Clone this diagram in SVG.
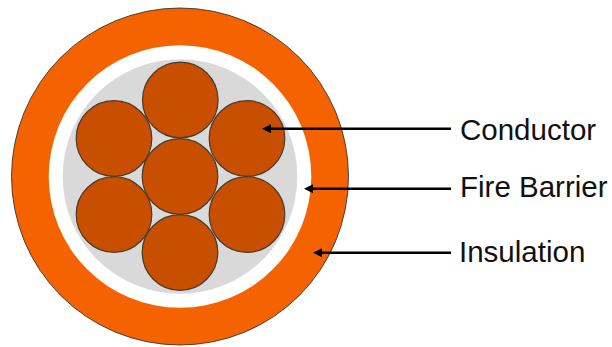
<svg xmlns="http://www.w3.org/2000/svg" width="612" height="347" viewBox="0 0 612 347">
<style>
.wire{fill:#c84e00;stroke:#4a3a2a;stroke-width:1.2}
.lbl{font-family:"Liberation Sans",Arial,sans-serif;font-size:29.500px;fill:#111}
.conn{stroke:#000;stroke-width:2.6;fill:none;marker-end:url(#ah)}
</style>
<defs><marker id="ah" markerUnits="userSpaceOnUse" markerWidth="10" markerHeight="10" refX="1" refY="5" orient="auto"><path d="M9,5 L0,0.5 L0,9.5 Z" fill="#000"/></marker></defs>
<rect width="612" height="347" fill="#fff"/>
<g id="insulation"><circle cx="180" cy="176.5" r="168.5" fill="#f46300" stroke="#222" stroke-width="0.8"/></g>
<g id="fire-barrier"><circle cx="180" cy="176.5" r="131.3" fill="#fff"/></g>
<g id="filler"><circle cx="180" cy="176.5" r="117.3" fill="#d9d9d9"/></g>
<g id="wire-top"><circle class="wire" cx="180.3" cy="100" r="37.8"/></g>
<g id="wire-upper-left"><circle class="wire" cx="114" cy="138.5" r="37.8"/></g>
<g id="wire-upper-right"><circle class="wire" cx="247" cy="138.5" r="37.8"/></g>
<g id="wire-center"><circle class="wire" cx="180" cy="176.5" r="37.8"/></g>
<g id="wire-lower-left"><circle class="wire" cx="114" cy="214.5" r="37.8"/></g>
<g id="wire-lower-right"><circle class="wire" cx="247" cy="214.5" r="37.8"/></g>
<g id="wire-bottom"><circle class="wire" cx="180" cy="252.5" r="37.8"/></g>
<g id="connectors">
<path class="conn" d="M451,128.700 H270"/>
<path class="conn" d="M451,188.700 H312"/>
<path class="conn" d="M451,252.700 H321"/>
</g>
<g id="label-conductor"><text class="lbl" x="460" y="140">Conductor</text></g>
<g id="label-fire-barrier"><text class="lbl" x="460" y="197">Fire Barrier</text></g>
<g id="label-insulation"><text class="lbl" x="459" y="261.500">Insulation</text></g>
</svg>
